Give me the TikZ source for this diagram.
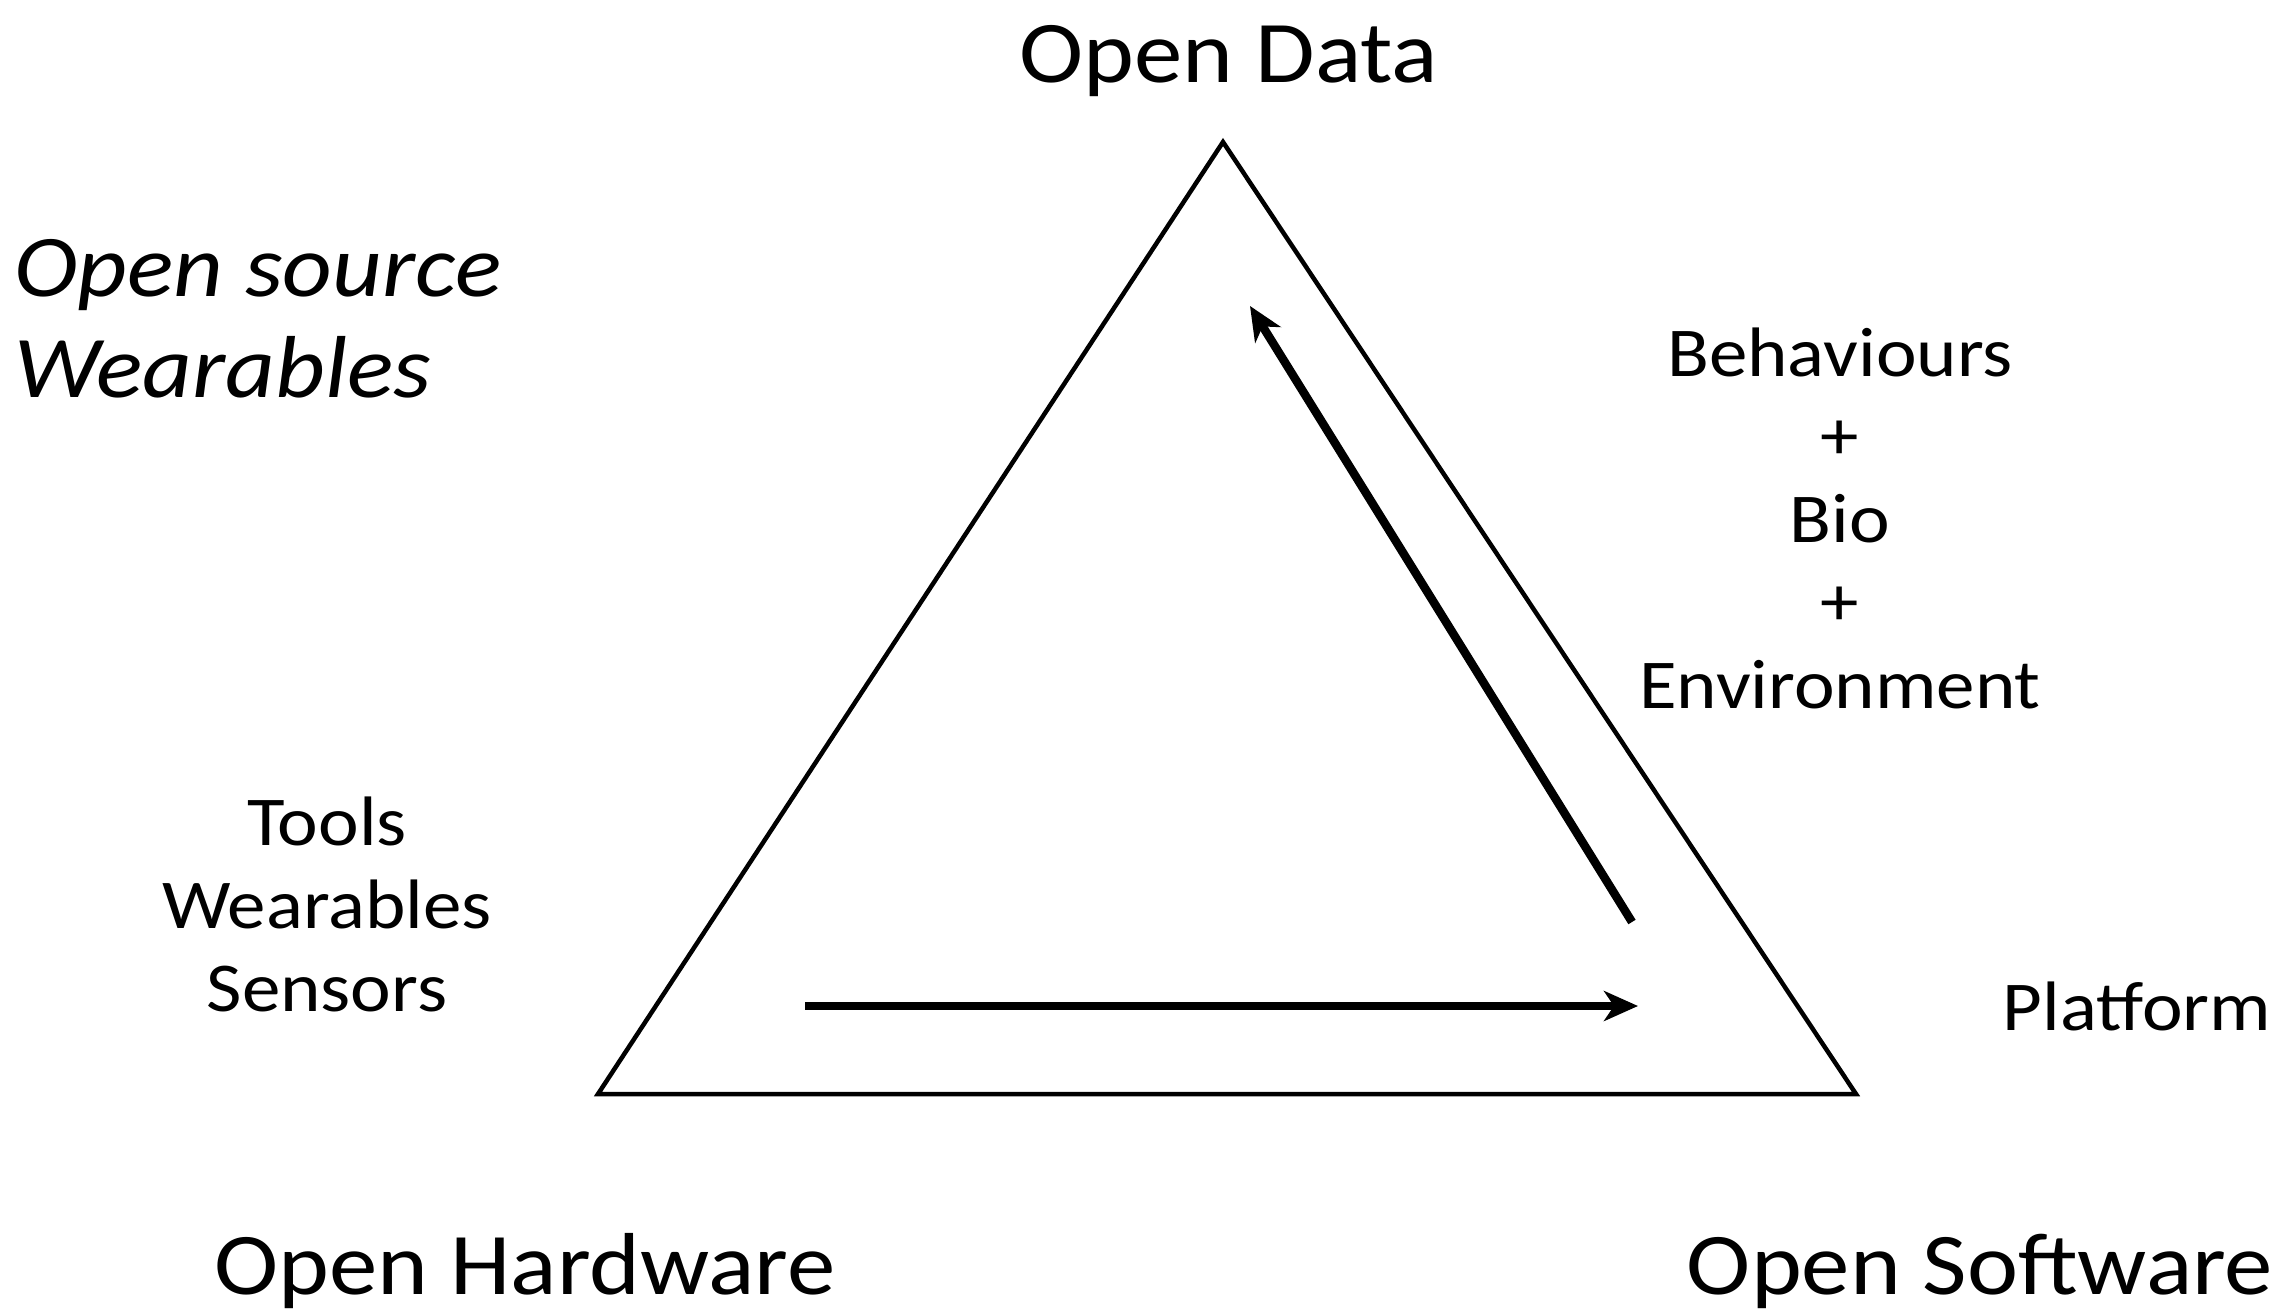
\documentclass[tikz,border=0pt]{standalone}
\usepackage{fontspec}
\setmainfont{Carlito}[FakeStretch=1.1]
\usetikzlibrary{arrows.meta}
\begin{document}
\begin{tikzpicture}[x=1pt,y=-1pt,
  big/.style={font=\fontsize{88}{101}\selectfont, inner sep=0pt},
  small/.style={font=\fontsize{70}{83}\selectfont, inner sep=0pt, align=center},
  tri/.style={line width=4.5pt, line join=miter},
  flow/.style={line width=8.5pt, -{Stealth[length=34pt,width=30pt,inset=10pt]}}]
\useasboundingbox (0,0) rectangle (2296,1311);
\fill[white] (0,0) rectangle (2296,1311);
% triangle corners
\coordinate (top) at (1223,142);
\coordinate (bl) at (598,1094);
\coordinate (br) at (1856,1094);
\draw[tri] (top) -- (bl) -- (br) -- cycle;
% arrows
\coordinate (h1) at (805,1006);
\coordinate (h2) at (1638,1006);
\coordinate (d1) at (1632,922);
\coordinate (d2) at (1250,306);
\draw[flow] (h1) -- (h2);
\draw[flow] (d1) -- (d2);
% labels
\node[big, anchor=base] (od) at (1229,83) {Open Data};
\node[big, anchor=base] (oh) at (525,1294) {Open Hardware};
\node[big, anchor=base] (os) at (1980,1294) {Open Software};
\node[big, anchor=west, align=left, font=\fontsize{88}{101}\selectfont\itshape] (osw) at (14,319) {Open source\\Wearables};
\node[small] (beh) at (1840,518) {Behaviours\\+\\Bio\\+\\Environment};
\node[small] (tools) at (327,904) {Tools\\Wearables\\Sensors};
\node[small, anchor=base] (plat) at (2137,1030) {Platform};
\end{tikzpicture}
\end{document}
